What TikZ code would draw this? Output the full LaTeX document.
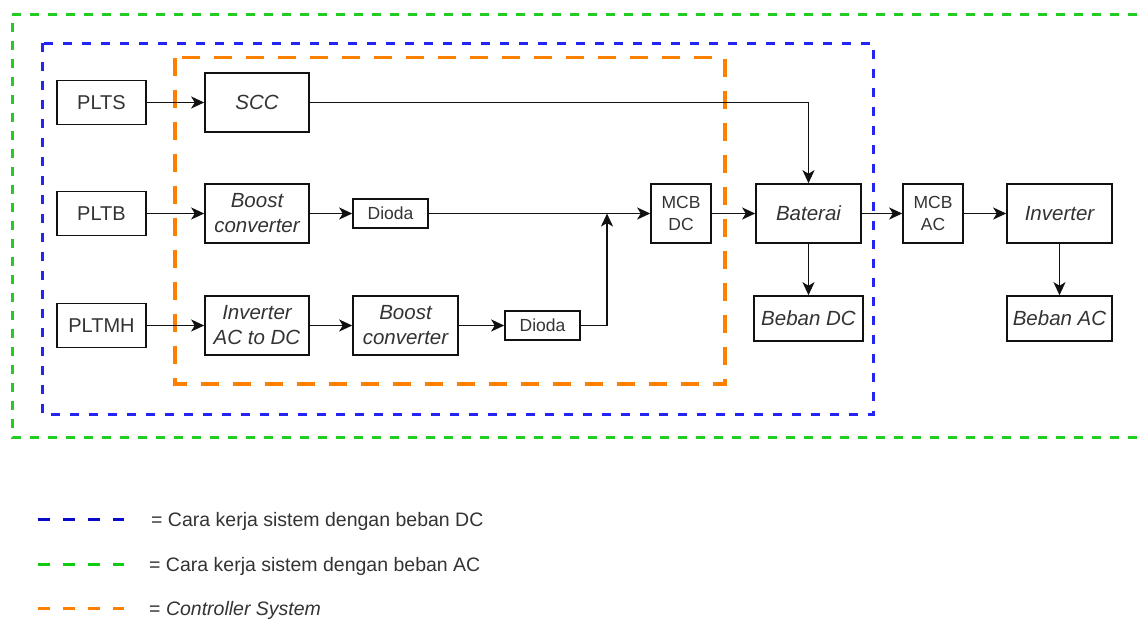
\documentclass[tikz,border=0pt]{standalone}
\usepackage{fontspec}
\setmainfont{Liberation Sans}
\usetikzlibrary{arrows.meta}
\definecolor{txt}{HTML}{333333}
\definecolor{lineblk}{HTML}{111111}
\definecolor{zoneblue}{HTML}{2424F5}
\definecolor{zonegreen}{HTML}{22CC22}
\definecolor{zoneorange}{HTML}{FF8000}
\definecolor{legblue}{HTML}{0A0ACC}
\definecolor{leggreen}{HTML}{10CC10}
\begin{document}
\begin{tikzpicture}[x=1pt,y=-1pt,
  box/.style={draw=lineblk, line width=1.6pt, text=txt, inner sep=0pt, align=center,
    font=\fontsize{20}{25}\selectfont},
  itbox/.style={box, font=\fontsize{20.5}{25}\selectfont\itshape},
  smallbox/.style={box, font=\fontsize{17.5}{22}\selectfont},
  conn/.style={line width=1.9pt, draw=lineblk, -{Stealth[length=13pt,width=12pt,inset=3.5pt]}},
  zone/.style={line width=3pt},
  legtext/.style={anchor=west, text=txt, inner sep=0pt, font=\fontsize{19.5}{23}\selectfont}]

\useasboundingbox (0,0) rectangle (1137,619);

% system boundaries
\draw[zone, zonegreen, dash pattern=on 9pt off 9pt] (1137,14) -- (12,14) -- (12,437) -- (1137,437);
\draw[zone, zoneblue, dash pattern=on 9pt off 10pt] (42.5,43) rectangle (873,414.5);
\draw[zone, zoneorange, line width=3.5pt, dash pattern=on 18pt off 14pt] (175,57.5) rectangle (725,384);

% sources
\node[box, minimum width=89pt, minimum height=44pt] (plts)  at (101.5,102.5) {PLTS};
\node[box, minimum width=89pt, minimum height=44pt] (pltb)  at (101.5,213.5) {PLTB};
\node[box, minimum width=89pt, minimum height=44pt] (pltmh) at (101.5,325.5) {PLTMH};

% controller stage
\node[itbox, minimum width=104pt, minimum height=59pt] (scc)   at (257,102.5) {SCC};
\node[itbox, minimum width=104pt, minimum height=59pt] (boost1) at (257,213.5) {Boost\\converter};
\node[itbox, minimum width=104pt, minimum height=59pt] (invdc) at (257,325.5) {Inverter\\AC to DC};
\node[itbox, minimum width=105pt, minimum height=59pt] (boost2) at (405.5,325.5) {Boost\\converter};
\node[smallbox, minimum width=75pt, minimum height=29pt] (d1) at (390.5,213.5) {Dioda};
\node[smallbox, minimum width=75pt, minimum height=29pt] (d2) at (542.5,325.5) {Dioda};
\node[smallbox, minimum width=60pt, minimum height=59pt] (mcbdc) at (681,213.5) {MCB\\DC};
\coordinate (j) at (607,213.5);

% storage and loads
\node[itbox, minimum width=105pt, minimum height=59pt] (bat)   at (808.5,213.5) {Baterai};
\node[itbox, minimum width=109pt, minimum height=45pt] (bdc)   at (808.5,318.5) {Beban DC};
\node[smallbox, minimum width=60pt, minimum height=59pt] (mcbac) at (933,213.5) {MCB\\AC};
\node[itbox, minimum width=105pt, minimum height=59pt] (inv)   at (1059.5,213.5) {Inverter};
\node[itbox, minimum width=105pt, minimum height=45pt] (bac)   at (1059.5,318.5) {Beban AC};

% connections
\draw[conn] (plts) -- (scc);
\draw[conn] (pltb) -- (boost1);
\draw[conn] (pltmh) -- (invdc);
\draw[conn] (boost1) -- (d1);
\draw[conn] (invdc) -- (boost2);
\draw[conn] (boost2) -- (d2);
\draw[conn] (d2.east) -| (j);
\draw[conn] (d1) -- (mcbdc);
\draw[conn] (scc.east) -| (bat.north);
\draw[conn] (mcbdc) -- (bat);
\draw[conn] (bat) -- (bdc);
\draw[conn] (bat) -- (mcbac);
\draw[conn] (mcbac) -- (inv);
\draw[conn] (inv) -- (bac);

% legend
\coordinate (la1) at (38,519);  \coordinate (lb1) at (124,519);
\coordinate (la2) at (38,564);  \coordinate (lb2) at (124,564);
\coordinate (la3) at (38,608);  \coordinate (lb3) at (124,608);
\draw[line width=3pt, legblue, dash pattern=on 12pt off 13pt] (la1) -- (lb1);
\draw[line width=3pt, leggreen, dash pattern=on 12pt off 13pt] (la2) -- (lb2);
\draw[line width=3pt, zoneorange, dash pattern=on 12pt off 13pt] (la3) -- (lb3);
\node[legtext] (l1) at (151,521.5) {= Cara kerja sistem dengan beban DC};
\node[legtext] (l2) at (149,566.5) {= Cara kerja sistem dengan beban AC};
\node[legtext] (l3) at (149,610.5) {= \textit{Controller System}};
\end{tikzpicture}
\end{document}
